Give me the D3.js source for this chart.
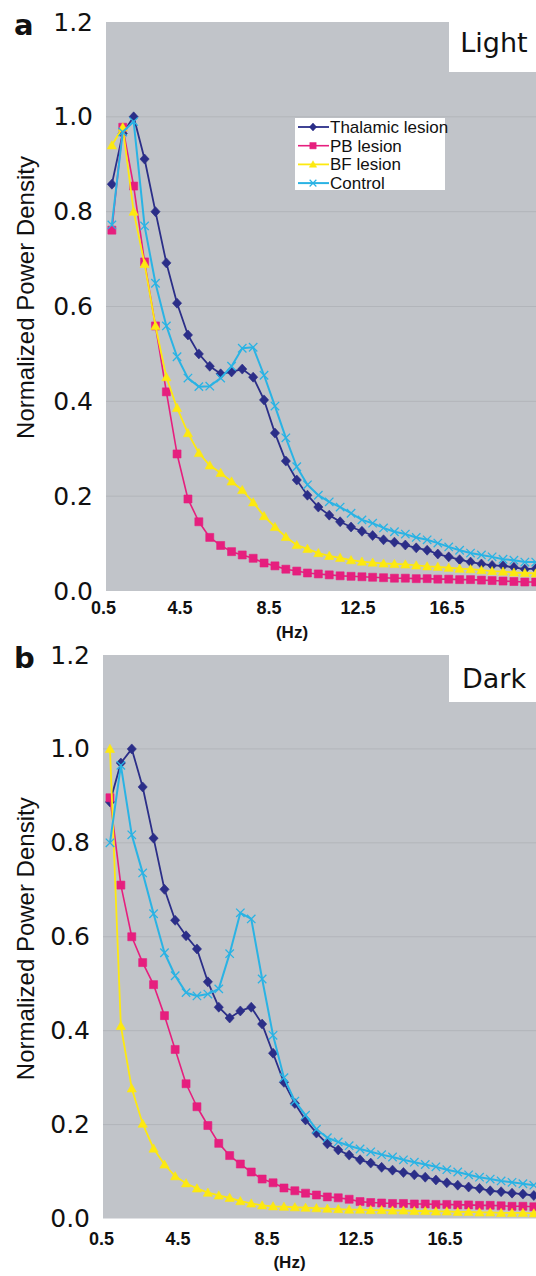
<!DOCTYPE html>
<html>
<head>
<meta charset="utf-8">
<script src="https://cdn.jsdelivr.net/npm/d3@7"></script>
<style>
  html, body { margin: 0; padding: 0; background: #ffffff; }
  svg { display: block; }
</style>
</head>
<body>
<svg id="chart" width="536" height="1276"></svg>
<script>
// ---------------- data ----------------
const seriesNames = ["Thalamic lesion", "PB lesion", "BF lesion", "Control"];
const freqs = [1.46, 1.95, 2.44, 2.93, 3.42, 3.91, 4.39, 4.88, 5.37, 5.86,
  6.35, 6.84, 7.32, 7.81, 8.30, 8.79, 9.28, 9.77, 10.25, 10.74,
  11.23, 11.72, 12.21, 12.70, 13.18, 13.67, 14.16, 14.65, 15.14, 15.63,
  16.11, 16.60, 17.09, 17.58, 18.07, 18.55, 19.04, 19.53, 20.02, 20.51];
const xTickValues = [0.5, 4.5, 8.5, 12.5, 16.5];
const yTickValues = [0.0, 0.2, 0.4, 0.6, 0.8, 1.0, 1.2];

const lightThalamic = [0.858, 0.965, 1.0, 0.911, 0.80, 0.692, 0.607, 0.54, 0.50, 0.474,
  0.458, 0.462, 0.468, 0.451, 0.403, 0.333, 0.274, 0.234, 0.202, 0.177,
  0.160, 0.146, 0.135, 0.126, 0.117, 0.108, 0.103, 0.097, 0.091, 0.086,
  0.078, 0.072, 0.066, 0.061, 0.057, 0.054, 0.053, 0.050, 0.046, 0.047];
const lightPB = [0.761, 0.978, 0.854, 0.694, 0.559, 0.42, 0.289, 0.194, 0.146, 0.113,
  0.096, 0.083, 0.076, 0.069, 0.059, 0.053, 0.046, 0.042, 0.038, 0.036,
  0.034, 0.032, 0.031, 0.030, 0.029, 0.028, 0.027, 0.027, 0.026, 0.026,
  0.025, 0.025, 0.024, 0.024, 0.023, 0.022, 0.021, 0.020, 0.019, 0.019];
const lightBF = [0.94, 0.978, 0.80, 0.69, 0.559, 0.451, 0.386, 0.333, 0.291, 0.265,
  0.249, 0.231, 0.213, 0.187, 0.158, 0.135, 0.114, 0.097, 0.089, 0.080,
  0.074, 0.070, 0.065, 0.062, 0.060, 0.058, 0.057, 0.056, 0.054, 0.052,
  0.051, 0.049, 0.047, 0.046, 0.044, 0.042, 0.041, 0.039, 0.038, 0.037];
const lightControl = [0.772, 0.968, 0.99, 0.77, 0.649, 0.559, 0.494, 0.449, 0.431, 0.432,
  0.449, 0.474, 0.512, 0.514, 0.455, 0.390, 0.323, 0.262, 0.224, 0.202,
  0.188, 0.177, 0.164, 0.150, 0.143, 0.133, 0.125, 0.120, 0.113, 0.108,
  0.101, 0.093, 0.086, 0.080, 0.076, 0.072, 0.067, 0.065, 0.061, 0.061];

const darkThalamic = [0.887, 0.97, 1.0, 0.919, 0.81, 0.701, 0.635, 0.602, 0.574, 0.504,
  0.45, 0.427, 0.442, 0.45, 0.414, 0.352, 0.29, 0.245, 0.21, 0.182,
  0.159, 0.146, 0.135, 0.125, 0.118, 0.109, 0.103, 0.098, 0.093, 0.088,
  0.082, 0.076, 0.071, 0.067, 0.064, 0.059, 0.057, 0.054, 0.052, 0.049];
const darkPB = [0.896, 0.71, 0.60, 0.545, 0.498, 0.432, 0.36, 0.287, 0.238, 0.198,
  0.16, 0.134, 0.116, 0.099, 0.084, 0.076, 0.065, 0.059, 0.054, 0.05,
  0.046, 0.044, 0.041, 0.036, 0.034, 0.033, 0.032, 0.032, 0.031, 0.031,
  0.030, 0.030, 0.029, 0.029, 0.028, 0.028, 0.027, 0.026, 0.026, 0.025];
const darkBF = [1.0, 0.41, 0.277, 0.202, 0.149, 0.115, 0.09, 0.075, 0.064, 0.055,
  0.049, 0.044, 0.037, 0.032, 0.028, 0.026, 0.025, 0.024, 0.023, 0.022,
  0.021, 0.020, 0.019, 0.019, 0.018, 0.018, 0.017, 0.017, 0.016, 0.016,
  0.015, 0.015, 0.014, 0.014, 0.013, 0.013, 0.012, 0.012, 0.012, 0.011];
const darkControl = [0.80, 0.965, 0.817, 0.736, 0.649, 0.566, 0.517, 0.481, 0.474, 0.478,
  0.489, 0.564, 0.651, 0.638, 0.51, 0.39, 0.30, 0.25, 0.22, 0.19,
  0.172, 0.163, 0.155, 0.148, 0.142, 0.136, 0.131, 0.125, 0.12, 0.115,
  0.11, 0.104, 0.099, 0.093, 0.088, 0.084, 0.08, 0.077, 0.074, 0.071];

// ---------------- styles ----------------
const colors = ["#2b2e88", "#e61f7e", "#fde910", "#2ab3e4"];
const markerPaths = [
  "M0,-5L4.6,0L0,5L-4.6,0Z",          // diamond
  "M-4,-4L4,-4L4,4L-4,4Z",            // square
  "M0,-4.6L4.6,3.6L-4.6,3.6Z",        // triangle
  "M-4.2,-4.2L4.2,4.2M-4.2,4.2L4.2,-4.2" // x
];
const lineWidths = [1.8, 1.6, 1.8, 2.0];

const panels = [
  { tag: "a", cond: "Light", series: [lightThalamic, lightPB, lightBF, lightControl],
    top: 22, bottom: 591, left: 106, right: 536, x0: 90.5, legend: true,
    tickDy: 23, hzY: 638, condBoxBottom: 72, condY: 52 },
  { tag: "b", cond: "Dark", series: [darkThalamic, darkPB, darkBF, darkControl],
    top: 655, bottom: 1218.5, left: 103, right: 536, x0: 88.6, legend: false,
    tickDy: 26, hzY: 1268, condBoxBottom: 702, condY: 688 }
];

const svg = d3.select("#chart");

panels.forEach((p, pi) => {
  const g = svg.append("g");
  const x = d3.scaleLinear().domain([0.5, 20.5]).range([p.x0, p.x0 + 20 * 22.25]);
  const y = d3.scaleLinear().domain([0, 1.2]).range([p.bottom, p.top]);

  // plot background
  g.append("rect")
    .attr("x", p.left).attr("y", p.top)
    .attr("width", p.right - p.left).attr("height", p.bottom - p.top)
    .attr("fill", "#c1c4c9");

  // gridlines
  g.selectAll("line.grid").data(yTickValues.filter(v => v > 0 && v < 1.2)).enter()
    .append("line").attr("class", "grid")
    .attr("x1", p.left).attr("x2", p.right)
    .attr("y1", d => y(d)).attr("y2", d => y(d))
    .attr("stroke", "#b2b5ba").attr("stroke-width", 1);

  // y axis
  const yAxis = d3.axisLeft(y).tickValues(yTickValues).tickFormat(d3.format(".1f"))
    .tickSize(0).tickPadding(13);
  const ya = g.append("g").attr("transform", `translate(${p.left},0)`).call(yAxis);
  ya.select(".domain").remove();
  ya.selectAll("text")
    .attr("font-family", "'DejaVu Sans', sans-serif")
    .attr("font-size", 25).attr("fill", "#111");

  // x axis
  const xAxis = d3.axisBottom(x).tickValues(xTickValues).tickFormat(d3.format(".1f"))
    .tickSize(0).tickPadding(0);
  const xa = g.append("g").attr("transform", `translate(0,${p.bottom})`).call(xAxis);
  xa.select(".domain").remove();
  xa.selectAll("text")
    .attr("font-family", "'Liberation Sans', Arial, sans-serif")
    .attr("font-weight", "bold")
    .attr("font-size", 18).attr("fill", "#111")
    .attr("y", p.tickDy).attr("dy", 0)
    .attr("text-anchor", (d, i) => i === 0 ? "start" : "middle");

  // x title
  g.append("text")
    .attr("x", (p.left + p.right) / 2 + igniteOffset(pi)).attr("y", p.hzY)
    .attr("text-anchor", "middle")
    .attr("font-family", "'Liberation Sans', Arial, sans-serif")
    .attr("font-weight", "bold").attr("font-size", 17).attr("fill", "#111")
    .text("(Hz)");

  // y title
  g.append("text")
    .attr("transform", `translate(34,${(p.top + p.bottom) / 2 - (pi === 0 ? 9 : -2)}) rotate(-90)`)
    .attr("text-anchor", "middle")
    .attr("font-family", "'Liberation Sans', Arial, sans-serif")
    .attr("font-size", 24).attr("fill", "#111")
    .text("Normalized Power Density");

  // panel letter
  g.append("text")
    .attr("x", 14).attr("y", p.top + 13)
    .attr("font-family", "'DejaVu Sans', sans-serif")
    .attr("font-weight", "bold").attr("font-size", 29).attr("fill", "#111")
    .text(p.tag);

  // condition box
  g.append("rect")
    .attr("x", 449).attr("y", p.top)
    .attr("width", p.right - 449).attr("height", p.condBoxBottom - p.top)
    .attr("fill", "#ffffff");
  g.append("text")
    .attr("x", 494).attr("y", p.condY)
    .attr("text-anchor", "middle")
    .attr("font-family", "'DejaVu Sans', sans-serif")
    .attr("font-size", 27).attr("fill", "#111")
    .text(p.cond);

  // clip
  const clipId = "clip" + pi;
  svg.append("clipPath").attr("id", clipId).append("rect")
    .attr("x", p.left).attr("y", p.top - 8)
    .attr("width", p.right - p.left).attr("height", p.bottom - p.top + 8);

  const plot = g.append("g").attr("clip-path", `url(#${clipId})`);
  const line = d3.line().x(d => x(d[0])).y(d => y(d[1]));

  p.series.forEach((vals, si) => {
    const pts = vals.map((v, i) => [freqs[i], v]);
    plot.append("path").datum(pts)
      .attr("d", line)
      .attr("fill", "none")
      .attr("stroke", colors[si])
      .attr("stroke-width", lineWidths[si])
      .attr("stroke-linejoin", "round");
    plot.selectAll(null).data(pts).enter().append("path")
      .attr("transform", d => `translate(${x(d[0])},${y(d[1])})`)
      .attr("d", markerPaths[si])
      .attr("fill", si === 3 ? "none" : colors[si])
      .attr("stroke", colors[si])
      .attr("stroke-width", si === 3 ? 1.3 : 0.6);
  });

  // legend
  if (p.legend) {
    const lg = g.append("g");
    lg.append("rect").attr("x", 295).attr("y", 118).attr("width", 150).attr("height", 72)
      .attr("fill", "#ffffff");
    const items = lg.selectAll("g.item").data(seriesNames).enter().append("g")
      .attr("class", "item")
      .attr("transform", (d, i) => `translate(0,${127 + i * 18.7})`);
    items.append("line").attr("x1", 298).attr("x2", 329).attr("y1", 0).attr("y2", 0)
      .attr("stroke", (d, i) => colors[i]).attr("stroke-width", (d, i) => lineWidths[i]);
    items.append("path").attr("transform", "translate(313,0) scale(0.8)")
      .attr("d", (d, i) => markerPaths[i])
      .attr("fill", (d, i) => i === 3 ? "none" : colors[i])
      .attr("stroke", (d, i) => colors[i])
      .attr("stroke-width", (d, i) => i === 3 ? 1.5 : 0.6);
    items.append("text").attr("x", 330).attr("y", 6)
      .attr("font-family", "'Liberation Sans', Arial, sans-serif")
      .attr("font-size", 17).attr("fill", "#111")
      .text(d => d);
  }
});

function igniteOffset(pi) { return pi === 0 ? -29 : -30; }
</script>
</body>
</html>
